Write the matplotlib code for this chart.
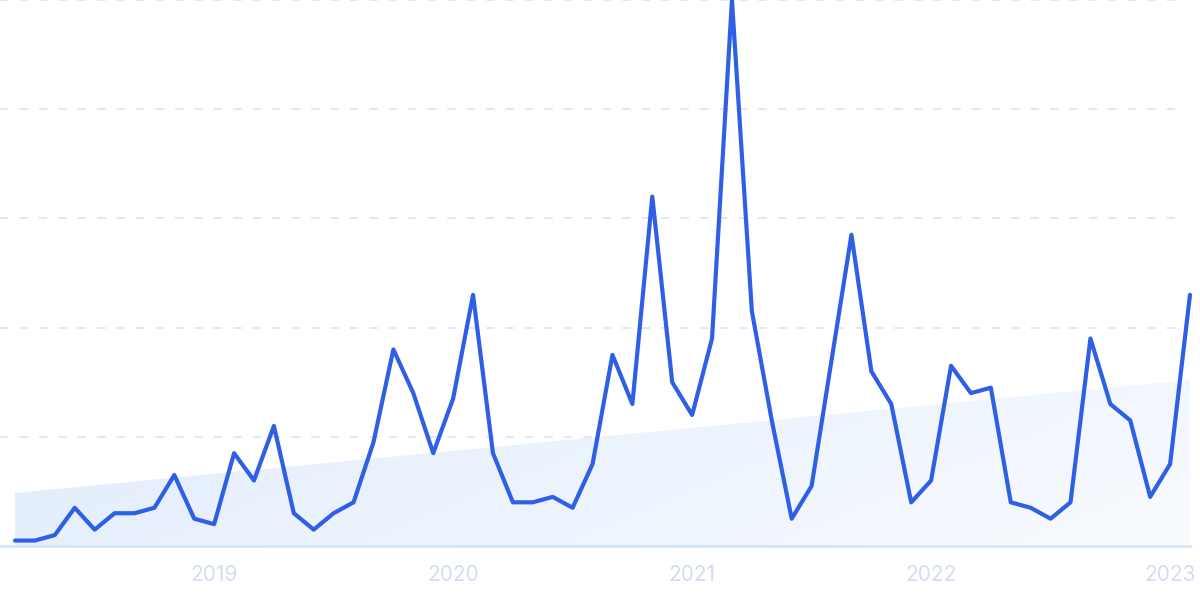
import matplotlib
matplotlib.use("Agg")
import matplotlib.pyplot as plt
import numpy as np
from matplotlib.patches import Polygon

# ---- data (monthly, Mar 2018 .. Feb 2023) ----
values = [1, 1, 2, 7, 3, 6, 6, 7, 13, 5,
          4, 17, 12, 22, 6, 3, 6, 8, 19, 36,
          28, 17, 27, 46, 17, 8, 8, 9, 7, 15,
          35, 26, 64, 30, 24, 38, 100, 43, 23, 5,
          11, 34, 57, 32, 26, 8, 12, 33, 28, 29,
          8, 7, 5, 8, 38, 26, 23, 9, 15, 46]
trend_ends = [9.7, 30.4]
tick_positions = [10, 22, 34, 46, 58]
tick_labels = ["2019", "2020", "2021", "2022", "2023"]
grid_levels = [20, 40, 60, 80, 100]

plt.rcParams['lines.scale_dashes'] = False
fig = plt.figure(figsize=(12, 5.99), dpi=100)
ax = fig.add_axes([0, 53 / 599, 1, 546 / 599])
n = len(values)
x = np.arange(n)
step = 1175 / (n - 1)
ax.set_xlim(-15 / step, (n - 1) + 10 / step)
ax.set_ylim(0, 100)
for s in ax.spines.values():
    s.set_visible(False)

# gridlines
for g in grid_levels:
    ax.axhline(g, xmin=0, xmax=1186 / 1200, color='#dbe5fb', lw=1.3,
               dashes=(6, 8), zorder=1, clip_on=False)

# trend area with gradient
tx = [0, n - 1]
poly_pts = [(tx[0], 0), (tx[0], trend_ends[0]), (tx[1], trend_ends[1]), (tx[1], 0)]
poly = Polygon(poly_pts, closed=True, facecolor='none', edgecolor='none')
ax.add_patch(poly)
gx = np.linspace(0, 1, 300)
gy = np.linspace(0, 1, 100)
GX, GY = np.meshgrid(gx, gy)
t = np.clip(0.75 * GX + 0.25 * (1 - GY), 0, 1)
c0 = np.array([0.878, 0.925, 0.984])
c1 = np.array([0.975, 0.985, 1.0])
img = c0[None, None, :] * (1 - t[..., None]) + c1[None, None, :] * t[..., None]
im = ax.imshow(img, extent=[tx[0], tx[1], 0, max(trend_ends)], origin='lower',
               aspect='auto', zorder=2, interpolation='bilinear')
im.set_clip_path(poly)

# baseline
ax.axhline(0, xmin=0, xmax=1190 / 1200, color='#d6e5f8', lw=2, zorder=3, clip_on=False)

# line
ax.plot(x, values, color='#2f5fe4', lw=3.0, solid_joinstyle='round',
        solid_capstyle='round', zorder=4, clip_on=False)

ax.set_xticks(tick_positions)
ax.set_xticklabels(tick_labels)
ax.tick_params(axis='x', length=0, pad=14, labelsize=15, labelcolor='#d3dcf5')
for lbl in ax.get_xticklabels():
    lbl.set_fontfamily(['Inter', 'DejaVu Sans'])
ax.set_yticks([])

fig.savefig('out.png', dpi=100)
